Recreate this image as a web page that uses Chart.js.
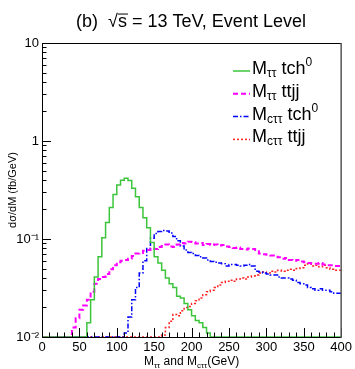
<!DOCTYPE html>
<html>
<head>
<meta charset="utf-8">
<script src="https://cdn.jsdelivr.net/npm/chart.js@4.4.0/dist/chart.umd.min.js"></script>
<style>
body { margin: 0; background: #fff; }
#wrap { position: relative; width: 355px; height: 369px; }
</style>
</head>
<body>
<div id="wrap"><canvas id="massChart"></canvas></div>
<script>
// histogram binning (GeV)
var binWidth = 5;
var xMin = 0, xMax = 400;
var yMin = 0.01, yMax = 10;

var yTickValues = [0.01, 0.1, 1, 10];
var yTickLabels = ['10\u207B\u00B2', '10\u207B\u00B9', '1', '10'];

// dsigma/dM per 5 GeV bin, 0 = empty bin
var mTauTauTch = [
    0, 0, 0, 0, 0, 0, 0, 0, 0, 0, 0, 0, 0,
    0.014, 0.024, 0.041, 0.066, 0.103, 0.147, 0.210, 0.284, 0.356, 0.398,
    0.416, 0.395, 0.330, 0.270, 0.210, 0.165, 0.130, 0.092, 0.066, 0.057,
    0.048, 0.040, 0.035, 0.032, 0.026, 0.025, 0.022, 0.019, 0.0165, 0.0147,
    0.0140, 0.0125, 0.011,
    0, 0, 0, 0, 0, 0, 0, 0, 0, 0, 0, 0, 0, 0, 0, 0, 0,
    0, 0, 0, 0, 0, 0, 0, 0, 0, 0, 0, 0, 0, 0, 0, 0, 0
];
var mTauTauTtjj = [
    0, 0, 0, 0, 0, 0, 0, 0, 0,
    0.0125, 0.0155, 0.019, 0.021, 0.024, 0.029, 0.035, 0.039, 0.041, 0.044,
    0.049, 0.054, 0.058, 0.060, 0.061, 0.063, 0.067, 0.071, 0.072, 0.076,
    0.077, 0.080, 0.079, 0.083, 0.085, 0.088, 0.084, 0.083, 0.088, 0.091,
    0.090, 0.094, 0.093, 0.090, 0.091, 0.087, 0.089, 0.087, 0.088, 0.086,
    0.087, 0.084, 0.083, 0.081, 0.082, 0.079, 0.078, 0.080, 0.079, 0.077,
    0.071, 0.070, 0.069, 0.068, 0.066, 0.065, 0.063, 0.064, 0.061, 0.060,
    0.061, 0.059, 0.058, 0.057, 0.056, 0.056, 0.057, 0.055, 0.054, 0.054,
    0.053
];
var mcTauTauTch = [
    0, 0, 0, 0, 0, 0, 0, 0, 0, 0, 0, 0, 0, 0, 0, 0, 0, 0, 0, 0, 0, 0, 0,
    0.011, 0.016, 0.024, 0.032, 0.045, 0.060, 0.080, 0.102, 0.114, 0.119,
    0.122, 0.121, 0.115, 0.106, 0.096, 0.085, 0.077, 0.073, 0.071, 0.068,
    0.066, 0.064, 0.061, 0.059, 0.058, 0.057, 0.056, 0.053, 0.055, 0.055,
    0.054, 0.053, 0.054, 0.055, 0.053, 0.047, 0.046, 0.045, 0.044, 0.043,
    0.043, 0.041, 0.040, 0.040, 0.039, 0.038, 0.036, 0.035, 0.034, 0.032,
    0.031, 0.030, 0.031, 0.030, 0.030, 0.029, 0.028
];
var mcTauTauTtjj = [
    0, 0, 0, 0, 0, 0, 0, 0, 0, 0, 0, 0, 0, 0, 0, 0, 0,
    0, 0, 0, 0, 0, 0, 0, 0, 0, 0, 0, 0, 0, 0, 0, 0,
    0.0105, 0.0125, 0.0145, 0.017, 0.0165, 0.0185, 0.020, 0.0205, 0.022, 0.0235,
    0.025, 0.027, 0.029, 0.030, 0.032, 0.034, 0.036, 0.037, 0.038, 0.037,
    0.039, 0.040, 0.039, 0.041, 0.042, 0.043, 0.045, 0.046, 0.045, 0.047,
    0.046, 0.048, 0.047, 0.048, 0.049, 0.048, 0.050, 0.051, 0.054, 0.056,
    0.053, 0.054, 0.052, 0.054, 0.051, 0.049, 0.048
];

var fontFamily = "'Liberation Sans', Arial, sans-serif";

// step outline: one point per low bin edge plus the closing edge
function histPoints(values) {
    var pts = values.map(function (v, i) {
        return { x: xMin + i * binWidth, y: v > 0 ? v : yMin };
    });
    pts.push({ x: xMin + values.length * binWidth, y: pts[pts.length - 1].y });
    return pts;
}

// draws text pieces with sub/superscripts, returns end x
function drawRich(ctx, parts, x, y) {
    parts.forEach(function (p) {
        ctx.font = p.size + 'px ' + fontFamily;
        ctx.fillText(p.t, x, y + (p.dy || 0));
        var w = ctx.measureText(p.t).width;
        if (p.bar) {
            ctx.beginPath();
            ctx.lineWidth = 1;
            ctx.moveTo(x, y - p.size * 0.72);
            ctx.lineTo(x + w + 1, y - p.size * 0.72);
            ctx.stroke();
        }
        x += w;
    });
    return x;
}
function richWidth(ctx, parts) {
    var w = 0;
    parts.forEach(function (p) {
        ctx.font = p.size + 'px ' + fontFamily;
        w += ctx.measureText(p.t).width;
    });
    return w;
}

var legendItems = [
    [{ t: 'M', size: 18 }, { t: '\u03C4\u03C4', size: 12, dy: 3 }, { t: ' tch', size: 18 }, { t: '0', size: 12, dy: -8 }],
    [{ t: 'M', size: 18 }, { t: '\u03C4\u03C4', size: 12, dy: 3 }, { t: ' ttjj', size: 18 }],
    [{ t: 'M', size: 18 }, { t: 'c\u03C4\u03C4', size: 12, dy: 3 }, { t: ' tch', size: 18 }, { t: '0', size: 12, dy: -8 }],
    [{ t: 'M', size: 18 }, { t: 'c\u03C4\u03C4', size: 12, dy: 3 }, { t: ' ttjj', size: 18 }]
];

var rootStyle = {
    id: 'rootStyle',
    afterDatasetsDraw: function (chart) {
        var ctx = chart.ctx;
        var area = chart.chartArea;
        var xs = chart.scales.x, ys = chart.scales.y;
        ctx.save();
        ctx.strokeStyle = '#000';
        ctx.lineWidth = 1;
        // inward tick marks
        ctx.beginPath();
        for (var v = xMin; v <= xMax; v += 10) {
            var px = Math.round(xs.getPixelForValue(v)) + 0.5;
            var len = v % 50 === 0 ? 9 : 4.5;
            ctx.moveTo(px, area.bottom);
            ctx.lineTo(px, area.bottom - len);
        }
        for (var d = yMin; d < yMax * 1.01; d *= 10) {
            for (var m = 1; m <= 9; m++) {
                var val = m * d;
                if (val > yMax * 1.001) break;
                var py = Math.round(ys.getPixelForValue(val)) + 0.5;
                var l = m === 1 ? 9 : 4.5;
                ctx.moveTo(area.left, py);
                ctx.lineTo(area.left + l, py);
            }
        }
        ctx.stroke();
        // frame
        ctx.beginPath();
        ctx.moveTo(area.left + 0.5, area.bottom + 0.5);
        ctx.lineTo(area.left + 0.5, area.top + 0.5);
        ctx.lineTo(area.right, area.top + 0.5);
        ctx.moveTo(area.left, area.bottom + 0.5);
        ctx.lineTo(area.right, area.bottom + 0.5);
        ctx.stroke();
        ctx.strokeStyle = '#555';
        ctx.lineWidth = 1.5;
        ctx.beginPath();
        ctx.moveTo(area.right, area.top);
        ctx.lineTo(area.right, area.bottom + 1);
        ctx.stroke();

        // legend
        ctx.fillStyle = '#000';
        ctx.textBaseline = 'alphabetic';
        chart.data.datasets.forEach(function (ds, i) {
            var base = 74 + i * 22.8;
            ctx.save();
            ctx.strokeStyle = ds.borderColor;
            ctx.lineWidth = ds.borderWidth;
            ctx.setLineDash(ds.borderDash || []);
            ctx.beginPath();
            ctx.moveTo(233, base - 3);
            ctx.lineTo(250, base - 3);
            ctx.stroke();
            ctx.restore();
            drawRich(ctx, legendItems[i], 252, base);
        });

        // title
        var titleParts = [
            { t: '(b)  \u221A', size: 18 }, { t: 's', size: 18, bar: true },
            { t: ' = 13 TeV, Event Level', size: 18 }
        ];
        ctx.strokeStyle = '#000';
        drawRich(ctx, titleParts, 191 - richWidth(ctx, titleParts) / 2, 27);

        // x axis title
        var xt = [
            { t: 'M', size: 12 }, { t: '\u03C4\u03C4', size: 8, dy: 2.5 },
            { t: ' and M', size: 12 }, { t: 'c\u03C4\u03C4', size: 8, dy: 2.5 },
            { t: '(GeV)', size: 12 }
        ];
        drawRich(ctx, xt, (area.left + area.right) / 2 - richWidth(ctx, xt) / 2, 365);
        ctx.restore();
    }
};

var ctx = document.getElementById('massChart').getContext('2d');
var massChart = new Chart(ctx, {
    type: 'line',
    data: {
        datasets: [{
            label: 'M\u03C4\u03C4 tch0',
            data: histPoints(mTauTauTch),
            borderColor: '#3cc43c',
            borderWidth: 1.5,
            order: 0
        }, {
            label: 'M\u03C4\u03C4 ttjj',
            data: histPoints(mTauTauTtjj),
            borderColor: '#ff00ff',
            borderWidth: 2,
            borderDash: [5, 3],
            order: 1
        }, {
            label: 'Mc\u03C4\u03C4 tch0',
            data: histPoints(mcTauTauTch),
            borderColor: '#0000ff',
            borderWidth: 1.5,
            borderDash: [5, 2, 1.5, 2],
            order: 2
        }, {
            label: 'Mc\u03C4\u03C4 ttjj',
            data: histPoints(mcTauTauTtjj),
            borderColor: '#ff2020',
            borderWidth: 1.5,
            borderDash: [2, 2],
            order: 3
        }]
    },
    options: {
        responsive: true,
        maintainAspectRatio: false,
        animation: false,
        layout: { padding: { top: 43, right: 12, bottom: 0, left: 0 } },
        elements: {
            point: { radius: 0 },
            line: { stepped: 'after', tension: 0, fill: false }
        },
        scales: {
            x: {
                type: 'linear',
                min: xMin,
                max: xMax,
                afterFit: function (scale) { scale.height = 32; },
                grid: { display: false, drawTicks: false },
                border: { display: false },
                ticks: {
                    stepSize: 50,
                    autoSkip: false,
                    maxRotation: 0,
                    padding: 3,
                    color: '#000',
                    font: { family: fontFamily, size: 13 }
                }
            },
            y: {
                type: 'logarithmic',
                min: yMin,
                max: yMax,
                afterFit: function (scale) { scale.width = 42; },
                afterBuildTicks: function (scale) {
                    scale.ticks = yTickValues.map(function (v) { return { value: v }; });
                },
                grid: { display: false, drawTicks: false },
                border: { display: false },
                ticks: {
                    autoSkip: false,
                    padding: 3,
                    color: '#000',
                    font: { family: fontFamily, size: 13 },
                    callback: function (value, index) { return yTickLabels[index]; }
                },
                title: {
                    display: true,
                    text: 'd\u03C3/dM (fb/GeV)',
                    color: '#000',
                    padding: { top: 6, bottom: 0 },
                    font: { family: fontFamily, size: 11 }
                }
            }
        },
        plugins: {
            legend: { display: false },
            tooltip: { enabled: false }
        }
    },
    plugins: [rootStyle]
});
</script>
</body>
</html>
